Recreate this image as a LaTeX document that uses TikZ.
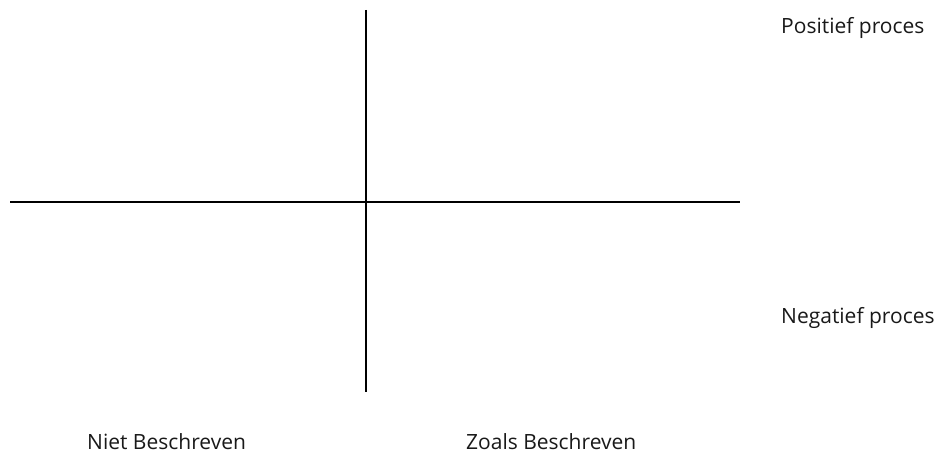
\documentclass[tikz,border=0pt]{standalone}
\usepackage{fontspec}
\setmainfont{Open Sans}
\begin{document}
\begin{tikzpicture}[x=1pt,y=-1pt]
    \tikzset{
        axis/.style={line width=2pt, black}, label/.style={anchor=west, inner sep=0pt, text=black!90, font=\fontsize{21}{24}\selectfont}
    }
    \useasboundingbox (0,0) rectangle (938,454);

    \coordinate (top) at (366,10);
    \coordinate (bottom) at (366,392);
    \coordinate (left) at (10,202);
    \coordinate (right) at (740,202);

    \draw[axis] (top) -- (bottom);
    \draw[axis] (left) -- (right);

    \node[label] (pos) at (781,28) {Positief proces};
    \node[label] (neg) at (781,318) {Negatief proces};
    \node[label] (niet) at (87,442) {Niet Beschreven};
    \node[label] (zoals) at (466,442) {Zoals Beschreven};
\end{tikzpicture}
\end{document}
